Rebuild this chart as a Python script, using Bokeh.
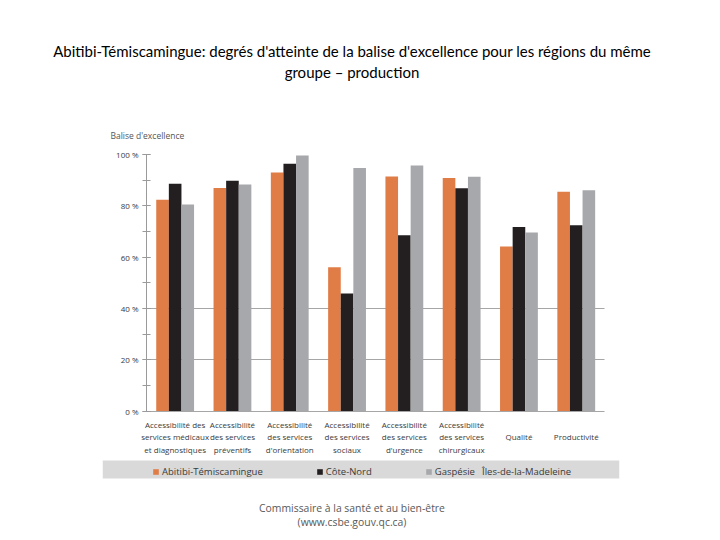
from bokeh.plotting import figure
from bokeh.models import (ColumnDataSource, FixedTicker, SingleIntervalTicker, Legend, LegendItem,
                          Label, Range1d, LinearAxis, BoxAnnotation, Div, Grid)
from bokeh.layouts import column
from bokeh.core.properties import value
from bokeh.transform import dodge
from bokeh.embed import file_html
from bokeh.resources import INLINE

title_lines = ["Abitibi-Témiscamingue: degrés d'atteinte de la balise d'excellence pour les régions du même",
               "groupe – production"]
footer_lines = ["Commissaire à la santé et au bien-être", "(www.csbe.gouv.qc.ca)"]
y_title = "Balise d'excellence"
categories = [
    "Accessibilité des\nservices médicaux\net diagnostiques",
    "Accessibilité\ndes services\npréventifs",
    "Accessibilité\ndes services\nd'orientation",
    "Accessibilité\ndes services\nsociaux",
    "Accessibilité\ndes services\nd'urgence",
    "Accessibilité\ndes services\nchirurgicaux",
    "\nQualité",
    "\nProductivité",
]
abitibi = [82.4, 86.9, 93.0, 56.0, 91.4, 90.8, 64.1, 85.5]
cote_nord = [88.6, 89.8, 96.4, 45.8, 68.5, 86.8, 71.7, 72.4]
gaspesie = [80.5, 88.3, 99.6, 94.7, 95.7, 91.3, 69.6, 86.1]
iles = [0, 0, 0, 0, 0, 0, 0, 0]
series_names = ["Abitibi-Témiscamingue", "Côte-Nord", "Gaspésie", "Îles-de-la-Madeleine"]
y_ticks = [0, 20, 40, 60, 80, 100]
y_tick_labels = ["0 %", "20 %", "40 %", "60 %", "80 %", "100 %"]
grid_values = [0, 20, 40]

ORANGE = "#e07c46"
BLACK = "#231f20"
GRAY = "#a7a8ab"
TXT = "#3a3a3a"
FONT = "Open Sans"

n = len(categories)
pos = [i + 0.5 for i in range(n)]
src = ColumnDataSource(dict(x=pos, a=abitibi, c=cote_nord, g=gaspesie, i=iles, lab=categories))

# pixel geometry (page coords) -> ranges
K = 2.565          # px per percent
Y0 = 410.5         # page y of 0 %
GW = 57.3          # px per category
X0 = 146           # page x of category axis start
FL, FR, FT, FB = 102, 619, 130, 486   # frame edges on page
FIG_TOP, FIG_BOTTOM = 88, 488

p = figure(width=704, height=FIG_BOTTOM - FIG_TOP, output_backend="svg", toolbar_location=None,
           x_axis_location=None, y_axis_location=None,
           x_range=Range1d(-(X0 - FL) / GW, n + (FR - (X0 + n * GW)) / GW),
           y_range=Range1d(-(FB - Y0) / K, (Y0 - FT) / K))
p.min_border_left = FL
p.min_border_right = 704 - FR
p.min_border_top = FT - FIG_TOP
p.min_border_bottom = FIG_BOTTOM - FB
p.outline_line_color = None
p.background_fill_color = "white"
p.margin = 0

bw = 0.22
r1 = p.vbar(x=dodge("x", -bw, range=p.x_range), top="a", width=bw, source=src,
            fill_color=ORANGE, line_color=None)
r2 = p.vbar(x=dodge("x", 0, range=p.x_range), top="c", width=bw, source=src,
            fill_color=BLACK, line_color=None)
r3 = p.vbar(x=dodge("x", bw, range=p.x_range), top="g", width=bw, source=src,
            fill_color=GRAY, line_color=None)
r4 = p.vbar(x=dodge("x", 2 * bw, range=p.x_range), top="i", width=bw, source=src,
            fill_alpha=0, line_alpha=0)

# y axis drawn at x = 0
yaxis = LinearAxis(fixed_location=0, bounds=(0, 100),
                   ticker=SingleIntervalTicker(interval=20, num_minor_ticks=2))
yaxis.major_label_overrides = {t: l for t, l in zip(y_ticks, y_tick_labels)}
yaxis.axis_line_color = "#9a9a9a"
yaxis.major_tick_line_color = "#9a9a9a"
yaxis.minor_tick_line_color = "#9a9a9a"
yaxis.major_tick_in = 4
yaxis.major_tick_out = 4
yaxis.minor_tick_in = 4
yaxis.minor_tick_out = 4
yaxis.major_label_text_font = FONT
yaxis.major_label_text_font_size = "8px"
yaxis.major_label_text_color = TXT
yaxis.major_label_standoff = 4
p.add_layout(yaxis, "left")

p.xgrid.grid_line_color = None
p.ygrid.grid_line_color = None
grid = Grid(dimension=1, ticker=FixedTicker(ticks=grid_values), cross_bounds=(0, n),
            grid_line_color="#a6a6a6", grid_line_width=1)
p.add_layout(grid)

# category labels
p.text(x="x", y=-(418 - Y0) / K, text="lab", source=src, text_align="center",
       text_baseline="top", text_font=value(FONT), text_font_size="8px",
       text_color=TXT, text_line_height=1.17)

# y title
p.add_layout(Label(x=-(X0 - 110) / GW, y=(Y0 - 135) / K, text=y_title, text_font=FONT,
                   text_font_size="8.5px", text_color="#555555", text_baseline="middle"))

# legend band
p.add_layout(BoxAnnotation(bottom=-(478 - Y0) / K, top=-(460 - Y0) / K,
                           fill_color="#d9d9d9", fill_alpha=1, line_color=None))

def mk_legend(names, rends, loc, spacing):
    lg = Legend(items=[LegendItem(label=nm, renderers=[r]) for nm, r in zip(names, rends)],
                orientation="horizontal", location=loc)
    lg.background_fill_alpha = 0
    lg.border_line_color = None
    lg.label_text_font = FONT
    lg.label_text_font_size = "9.5px"
    lg.label_text_color = TXT
    lg.glyph_width = 7
    lg.glyph_height = 7
    lg.label_standoff = 3
    lg.spacing = spacing
    lg.padding = 4
    lg.margin = 0
    lg.label_height = 10
    return lg

p.add_layout(mk_legend(series_names[:3], [r1, r2, r3], (50, 8), 53))
p.add_layout(mk_legend(series_names[3:], [r4], (370, 8), 0))

title_div = Div(text=("<div style=\"font-family:Lato;font-size:15px;line-height:21px;"
                      "text-align:center;color:#000;width:704px;padding-top:41px;\">"
                      + "<br>".join(title_lines) + "</div>"),
                width=704, height=FIG_TOP, margin=0)
footer_div = Div(text=("<div style=\"font-family:'Open Sans';font-size:10.4px;line-height:14px;"
                       "text-align:center;color:#595959;width:704px;padding-top:13px;\">"
                       + "<br>".join(footer_lines) + "</div>"),
                 width=704, height=44, margin=0)

layout = column(title_div, p, footer_div, spacing=0)
open("out.html", "w").write(file_html(layout, INLINE))
